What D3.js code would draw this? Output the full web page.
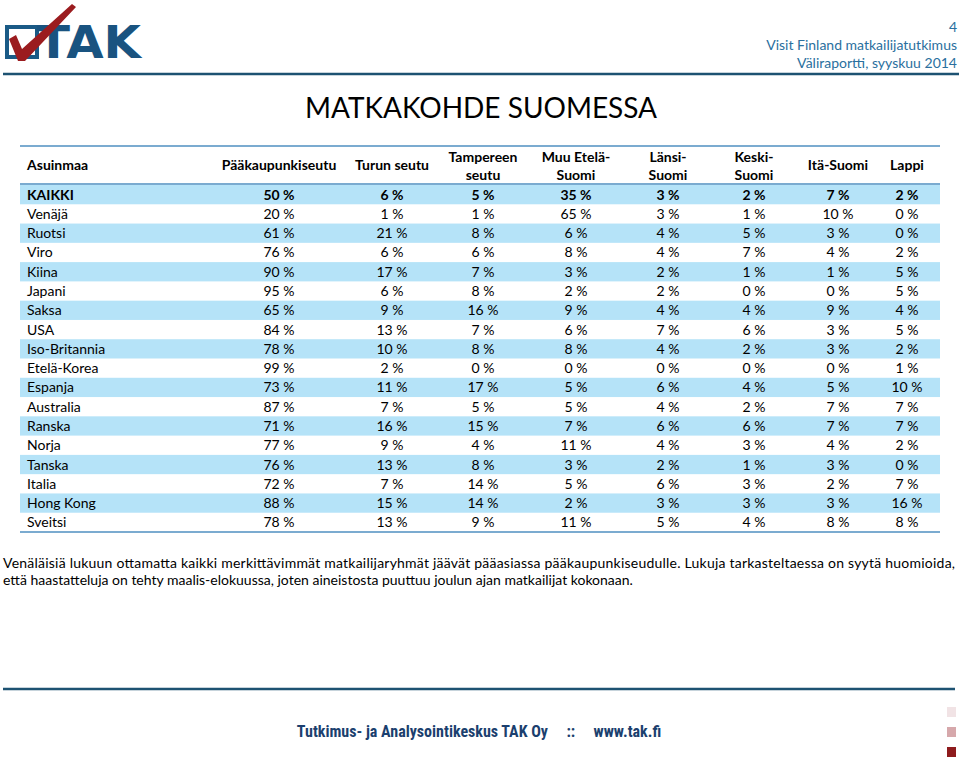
<!DOCTYPE html>
<html><head><meta charset="utf-8">
<script src="https://cdn.jsdelivr.net/npm/d3@7"></script>
<style>
html,body{margin:0;padding:0;background:#fff;}
svg{display:block;}
</style>
</head><body>
<svg id="chart" width="959" height="760"></svg>
<script>
// ---- data ----
const title = "MATKAKOHDE SUOMESSA";
const rowHeader = "Asuinmaa";
const destinations = [["Pääkaupunkiseutu"],["Turun seutu"],["Tampereen","seutu"],["Muu Etelä-","Suomi"],["Länsi-","Suomi"],["Keski-","Suomi"],["Itä-Suomi"],["Lappi"]];
const countries = ["KAIKKI","Venäjä","Ruotsi","Viro","Kiina","Japani","Saksa","USA","Iso-Britannia","Etelä-Korea","Espanja","Australia","Ranska","Norja","Tanska","Italia","Hong Kong","Sveitsi"];
const paakaupunkiseutu = [50,20,61,76,90,95,65,84,78,99,73,87,71,77,76,72,88,78];
const turunSeutu       = [6,1,21,6,17,6,9,13,10,2,11,7,16,9,13,7,15,13];
const tampereenSeutu   = [5,1,8,6,7,8,16,7,8,0,17,5,15,4,8,14,14,9];
const muuEtelaSuomi    = [35,65,6,8,3,2,9,6,8,0,5,5,7,11,3,5,2,11];
const lansiSuomi       = [3,3,4,4,2,2,4,7,4,0,6,4,6,4,2,6,3,5];
const keskiSuomi       = [2,1,5,7,1,0,4,6,2,0,4,2,6,3,1,3,3,4];
const itaSuomi         = [7,10,3,4,1,0,9,3,3,0,5,7,7,4,3,2,3,8];
const lappi            = [2,0,0,2,5,5,4,5,2,1,10,7,7,2,0,7,16,8];
const series = [paakaupunkiseutu,turunSeutu,tampereenSeutu,muuEtelaSuomi,lansiSuomi,keskiSuomi,itaSuomi,lappi];
const noteLine1 = "Venäläisiä lukuun ottamatta kaikki merkittävimmät matkailijaryhmät jäävät pääasiassa pääkaupunkiseudulle. Lukuja tarkasteltaessa on syytä huomioida,";
const noteLine2 = "että haastatteluja on tehty maalis-elokuussa, joten aineistosta puuttuu joulun ajan matkailijat kokonaan.";
const headerRight = ["4","Visit Finland matkailijatutkimus","Väliraportti, syyskuu 2014"];
const footer = "Tutkimus- ja Analysointikeskus TAK Oy     ::     www.tak.fi";

// ---- layout ----
const svg = d3.select("#chart");
const font = "Lato, 'Open Sans', sans-serif";
const tableLeft = 20, tableRight = 940;
const headTop = 146, headBottom = 184;
const y = d3.scaleBand().domain(countries).range([headBottom + 1, 532]).padding(0);
const colIdx = d3.range(destinations.length);
const x = d3.scaleOrdinal().domain(colIdx).range([279,392,483,576,668,754,838,907]);

// top rules
svg.append("line").attr("x1",3).attr("x2",959).attr("y1",74).attr("y2",74)
  .attr("stroke","#1d5272").attr("stroke-width",2.5);
svg.append("line").attr("x1",3).attr("x2",955).attr("y1",689).attr("y2",689)
  .attr("stroke","#1d5272").attr("stroke-width",2.5);

// logo
const logo = svg.append("g");
logo.append("rect").attr("x",7).attr("y",27).attr("width",30).attr("height",30)
  .attr("fill","none").attr("stroke","#1a5a86").attr("stroke-width",4);
logo.append("text").attr("x",37).attr("y",58).attr("font-family","'DejaVu Sans', sans-serif")
  .attr("font-weight","bold").attr("font-size",44).attr("fill","#195380")
  .attr("textLength",104).attr("lengthAdjust","spacingAndGlyphs").text("TAK");
logo.append("path").attr("d","M9,39 L16,35 L22,49 L72,4 L76,7 L25,61 L18,61 Z")
  .attr("fill","#9b1c1f");

// right header
svg.selectAll("text.hr").data(headerRight).enter().append("text")
  .attr("class","hr").attr("x",957).attr("y",(d,i)=>32+i*18)
  .attr("text-anchor","end").attr("font-family",font).attr("font-size",14)
  .attr("fill","#2a6f9e").text(d=>d);

// title
svg.append("text").attr("x",481).attr("y",118).attr("text-anchor","middle")
  .attr("font-family",font).attr("font-size",28).attr("fill","#000").text(title);

// table rules
svg.append("line").attr("x1",tableLeft).attr("x2",tableRight).attr("y1",headTop).attr("y2",headTop)
  .attr("stroke","#4f8fc0").attr("stroke-width",1.5);

// stripes
svg.selectAll("rect.stripe").data(countries.filter((d,i)=>i%2===0)).enter().append("rect")
  .attr("class","stripe").attr("x",tableLeft).attr("width",tableRight-tableLeft)
  .attr("y",d=>y(d)).attr("height",y.bandwidth()).attr("fill","#b5e3f8");

svg.append("line").attr("x1",tableLeft).attr("x2",tableRight).attr("y1",headBottom).attr("y2",headBottom)
  .attr("stroke","#4f8fc0").attr("stroke-width",1.5);
svg.append("line").attr("x1",tableLeft).attr("x2",tableRight).attr("y1",532).attr("y2",532)
  .attr("stroke","#4f8fc0").attr("stroke-width",1.5);

// header
const hdr = svg.append("g").attr("font-family",font).attr("font-weight","bold").attr("font-size",14).attr("fill","#000");
hdr.append("text").attr("x",27).attr("y",170).text(rowHeader);
destinations.forEach((lines,i)=>{
  const t = hdr.append("text").attr("text-anchor","middle").attr("x",x(i));
  if(lines.length===1){ t.attr("y",170).text(lines[0]); }
  else {
    lines.forEach((l,j)=>t.append("tspan").attr("x",x(i)).attr("y",162+j*18).text(l));
  }
});

// rows
const body = svg.append("g").attr("font-family",font).attr("font-size",14).attr("fill","#000");
body.selectAll("text.country").data(countries).enter().append("text")
  .attr("class","country").attr("x",27).attr("y",d=>y(d)+y.bandwidth()/2+5)
  .attr("font-weight",(d,i)=>i===0?"bold":"normal").text(d=>d);
series.forEach((vals,ci)=>{
  body.selectAll("text.c"+ci).data(vals).enter().append("text")
    .attr("class","c"+ci).attr("text-anchor","middle").attr("x",x(ci))
    .attr("y",(d,i)=>y(countries[i])+y.bandwidth()/2+5)
    .attr("font-weight",(d,i)=>i===0?"bold":"normal")
    .text(d=>d+" %");
});

// note
svg.append("text").attr("x",3).attr("y",568).attr("font-family",font).attr("font-size",14)
  .attr("textLength",952).attr("lengthAdjust","spacing").text(noteLine1);
svg.append("text").attr("x",3).attr("y",585).attr("font-family",font).attr("font-size",14).text(noteLine2);

// footer
svg.append("text").attr("x",479).attr("y",737).attr("text-anchor","middle")
  .attr("font-family","'Liberation Sans Narrow', 'Roboto Condensed', sans-serif").attr("font-weight","bold")
  .attr("font-size",16).attr("fill","#1b3f6e").attr("xml:space","preserve").text(footer);

// small squares
const sq = ["#f1e3e5","#d6a8ab","#8e1b1d"];
svg.selectAll("rect.sq").data(sq).enter().append("rect").attr("class","sq")
  .attr("x",947).attr("y",(d,i)=>707+i*20).attr("width",9).attr("height",10).attr("fill",d=>d);
</script>
</body></html>
